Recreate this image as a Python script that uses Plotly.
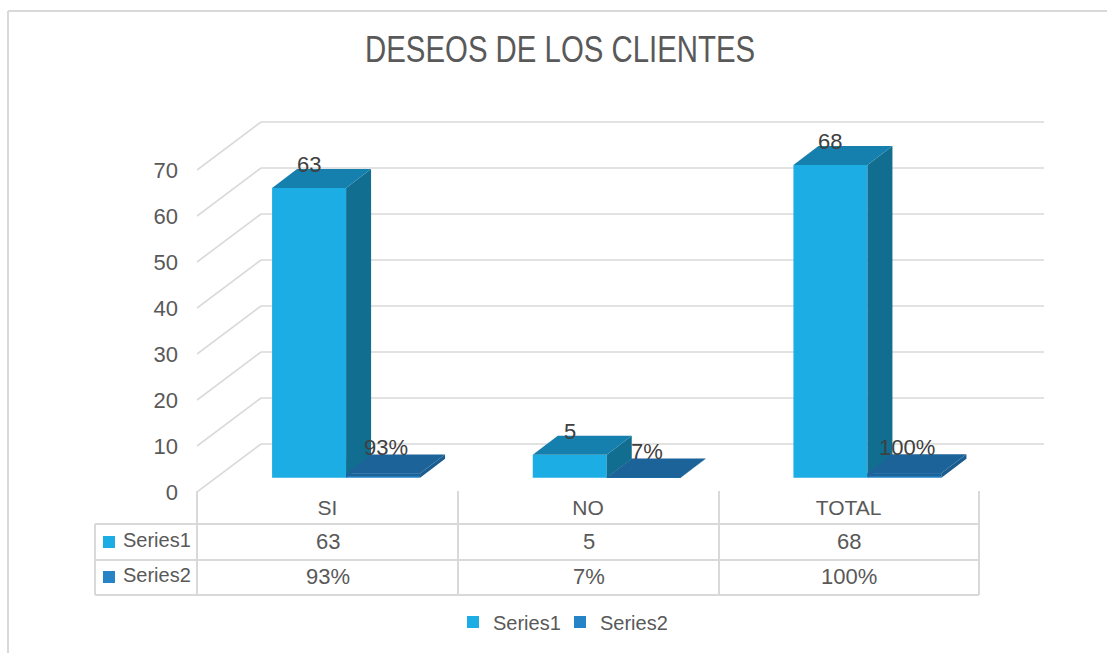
import plotly.graph_objects as go

title = "DESEOS DE LOS CLIENTES"
categories = ["SI", "NO", "TOTAL"]
series1 = [63, 5, 68]
series2_pct = [93, 7, 100]
series_names = ["Series1", "Series2"]
y_ticks = [0, 10, 20, 30, 40, 50, 60, 70]

W, H = 1107, 653
PLOT_L, PLOT_B = 197, 492
PX_PER_CAT = 260.67
PX_PER_UNIT = 4.6
C1, C1_TOP, C1_SIDE = "#1CADE4", "#1580AD", "#126E90"
C2, C2_TOP, C2_SIDE = "#2683C6", "#1B6399", "#1B5C8E"
GRID = "#D9D9D9"
TXT = "#595959"
LBL = "#404040"
FONT = "Liberation Sans"

BAR_W = 74 / PX_PER_CAT
FLOOR = 3.1
DX, DY = 25 / PX_PER_CAT, 19 / PX_PER_UNIT
WALL_DX, WALL_DY = 64 / PX_PER_CAT, 48 / PX_PER_UNIT
WALL_END = (1044 - PLOT_L) / PX_PER_CAT
X1 = [i + 0.43 for i in range(len(categories))]
X2 = [x + BAR_W for x in X1]
series2 = [p / 100 for p in series2_pct]


def px(x):
    return (x - PLOT_L) / (W - PLOT_L)


def py(y):
    return (PLOT_B - y) / PLOT_B


fig = go.Figure()
fig.add_bar(x=X1, y=series1, base=FLOOR, width=BAR_W, name=series_names[0],
            marker=dict(color=C1, line=dict(width=0)), hoverinfo="skip")
fig.add_bar(x=X2, y=series2, base=FLOOR, width=BAR_W, name=series_names[1],
            marker=dict(color=C2, line=dict(width=0)), hoverinfo="skip")


def faces(xc, v, top_col, side_col, front_col=None):
    l, r = xc - BAR_W / 2, xc + BAR_W / 2
    t = FLOOR + v
    fig.add_scatter(x=[r, r + DX, r + DX, r, r], y=[FLOOR, FLOOR + DY, t + DY, t, FLOOR],
                    fill="toself", fillcolor=side_col, mode="none", showlegend=False,
                    hoverinfo="skip", cliponaxis=False)
    fig.add_scatter(x=[l, r, r + DX, l + DX, l], y=[t, t, t + DY, t + DY, t],
                    fill="toself", fillcolor=top_col, mode="none", showlegend=False,
                    hoverinfo="skip", cliponaxis=False)
    if front_col:
        fig.add_scatter(x=[l, r, r, l, l], y=[FLOOR + 0.3, FLOOR + 0.3, t, t, FLOOR + 0.3],
                        fill="toself", fillcolor=front_col, mode="none", showlegend=False,
                        hoverinfo="skip", cliponaxis=False)


for x, v in zip(X1, series1):
    faces(x, v, C1_TOP, C1_SIDE)
for x, v in zip(X2, series2):
    faces(x, v, C2_TOP, C2_SIDE, C2_TOP)

shapes = []
for v in y_ticks:
    shapes.append(dict(type="line", xref="x", yref="y", layer="below", x0=0, y0=v,
                       x1=WALL_DX, y1=v + WALL_DY, line=dict(color=GRID, width=1.6)))
    shapes.append(dict(type="line", xref="x", yref="y", layer="below", x0=WALL_DX, y0=v + WALL_DY,
                       x1=WALL_END, y1=v + WALL_DY, line=dict(color=GRID, width=1.6)))


def hline(x0, x1, y):
    shapes.append(dict(type="line", xref="paper", yref="paper", x0=px(x0), x1=px(x1), y0=py(y), y1=py(y),
                       line=dict(color=GRID, width=2)))


def vline(x, y0, y1):
    shapes.append(dict(type="line", xref="paper", yref="paper", x0=px(x), x1=px(x), y0=py(y0), y1=py(y1),
                       line=dict(color=GRID, width=2)))


def swatch(y0, color):
    shapes.append(dict(type="rect", xref="paper", yref="paper", x0=px(103), x1=px(115), y0=py(y0), y1=py(y0 + 12),
                       fillcolor=color, line=dict(width=0)))


TABLE_X = [197, 458, 719, 979]
ROWS = [524, 560, 595]
for yy in ROWS:
    hline(95, 979, yy)
for xx in TABLE_X:
    vline(xx, 491, 595)
vline(95, 524, 595)
vline(8, 11, 653)
hline(8, 1107, 11)
swatch(536, C1)
swatch(571, C2)

ann = []


def text(x, y, s, size=21, color=TXT, family=FONT, anchor="center"):
    ann.append(dict(xref="paper", yref="paper", x=px(x), y=py(y), text=s, showarrow=False,
                    xanchor=anchor, yanchor="middle", font=dict(family=family, size=size, color=color)))


text(560, 49, title, size=36)

for name, yy in zip(series_names, [540, 575]):
    text(121, yy, name, size=20, anchor="left")
for j, (a, b) in enumerate(zip(series1, series2_pct)):
    cx = (TABLE_X[j] + TABLE_X[j + 1]) / 2
    text(cx, 541, str(a), size=22)
    text(cx, 576, f"{b}%", size=22)

for x, v in zip(X1, series1):
    ann.append(dict(xref="x", yref="y", x=x, y=FLOOR + v, text=str(v), showarrow=False, yshift=23,
                    font=dict(family=FONT, size=22, color=LBL)))
for x, v, p in zip(X2, series2, series2_pct):
    ann.append(dict(xref="x", yref="y", x=x, y=FLOOR + v, text=f"{p}%", showarrow=False, xshift=3, yshift=26,
                    font=dict(family=FONT, size=22, color=LBL)))

fig.update_layout(
    width=W, height=H, autosize=False,
    margin=dict(l=PLOT_L, r=0, t=0, b=H - PLOT_B, pad=0),
    paper_bgcolor="white", plot_bgcolor="rgba(0,0,0,0)",
    barmode="overlay", showlegend=True, shapes=shapes, annotations=ann,
    legend=dict(orientation="h", x=px(453), y=py(622), xanchor="left", yanchor="middle",
                font=dict(family=FONT, size=20, color=TXT), entrywidth=62, entrywidthmode="pixels",
                bgcolor="rgba(0,0,0,0)"),
    xaxis=dict(range=[0, (W - PLOT_L) / PX_PER_CAT], tickmode="array",
               tickvals=[i + 0.5 for i in range(len(categories))], ticktext=categories,
               showgrid=False, zeroline=False, showline=False, ticks="",
               tickfont=dict(family=FONT, size=21, color=TXT), ticklabelstandoff=1),
    yaxis=dict(range=[0, PLOT_B / PX_PER_UNIT], tickmode="array", tickvals=y_ticks,
               ticktext=[str(v) for v in y_ticks], showgrid=False, zeroline=False, showline=False, ticks="",
               tickfont=dict(family=FONT, size=22, color=TXT), ticklabelstandoff=18),
)

# The reference title is horizontally condensed: fit the real text to its measured width.
post = """
document.body.style.margin='0';
document.querySelectorAll('.annotation-text').forEach(function(t){
  if (t.textContent.indexOf('DESEOS') === 0) {
    t.setAttribute('textLength', '390');
    t.setAttribute('lengthAdjust', 'spacingAndGlyphs');
  }
});
"""
fig.write_html("out.html", post_script=post, config={"displayModeBar": False})
